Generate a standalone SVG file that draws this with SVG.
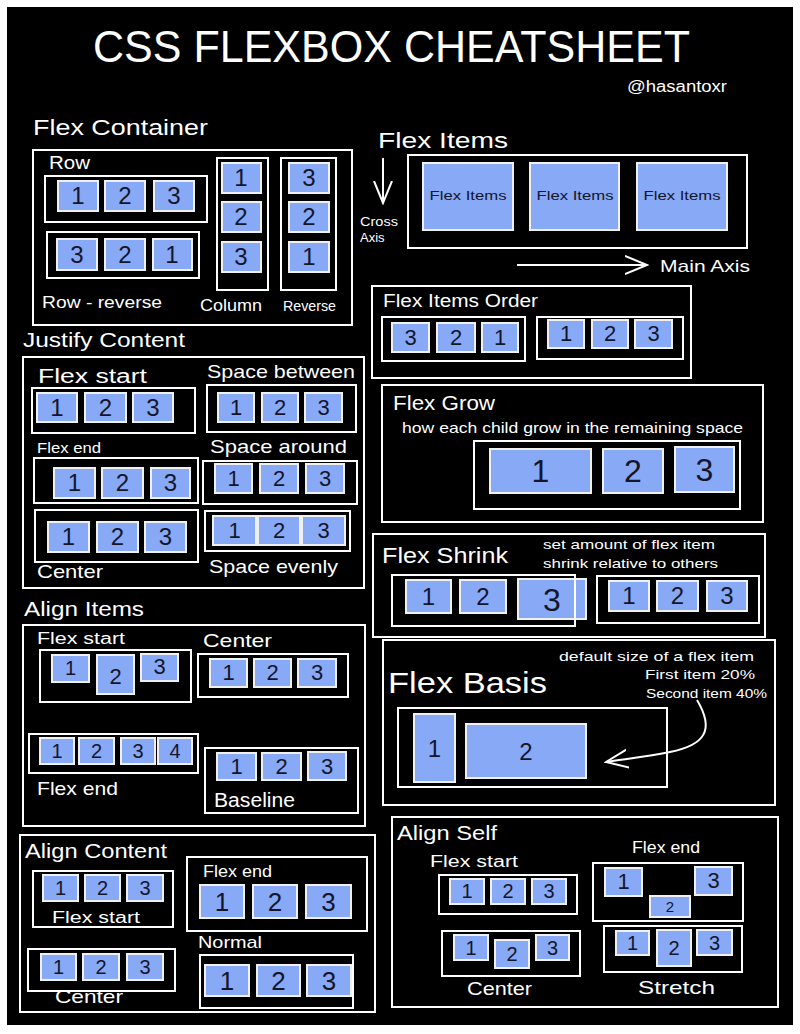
<svg xmlns="http://www.w3.org/2000/svg" width="800" height="1034" viewBox="0 0 800 1034">
<defs>
<style>
.box{fill:none;stroke:#fff;stroke-width:2}
.it{fill:#87a9f6;stroke:#f0f0f0;stroke-width:2}
.t{fill:#fff;font-family:"Liberation Sans",Arial,sans-serif}
.n{fill:#15152a;font-family:"Liberation Sans",Arial,sans-serif;text-anchor:middle}
.c{fill:none;stroke:#fff;stroke-width:2}
</style>
<marker id="ah" viewBox="0 0 24 24" refX="22" refY="12" markerWidth="24" markerHeight="24" markerUnits="userSpaceOnUse" orient="auto">
<path d="M0,3 L22,12 L0,21" fill="none" stroke="#fff" stroke-width="2"/>
</marker>
</defs>
<rect x="0" y="0" width="800" height="1034" fill="#fff"/>
<rect x="7" y="7" width="786" height="1018" fill="#000"/>

<g id="title">
<text class="t" x="93" y="62" font-size="44" textLength="597" lengthAdjust="spacingAndGlyphs">CSS FLEXBOX CHEATSHEET</text>
<text class="t" x="627" y="92" font-size="16" textLength="100" lengthAdjust="spacingAndGlyphs">@hasantoxr</text>
</g>

<g id="flex-container">
<text class="t" x="33" y="135" font-size="22" textLength="175" lengthAdjust="spacingAndGlyphs">Flex Container</text>
<rect class="box" x="33" y="150" width="319" height="175"/>
<text class="t" x="49" y="169" font-size="18" textLength="41" lengthAdjust="spacingAndGlyphs">Row</text>
<rect class="box" x="45" y="176" width="162" height="46"/>
<rect class="it" x="58" y="181" width="40" height="30"/><text class="n" x="78" y="204" font-size="24">1</text>
<rect class="it" x="105" y="181" width="40" height="30"/><text class="n" x="125" y="204" font-size="24">2</text>
<rect class="it" x="154" y="181" width="40" height="30"/><text class="n" x="174" y="204" font-size="24">3</text>
<rect class="box" x="47" y="232" width="152" height="46"/>
<rect class="it" x="57" y="239" width="40" height="31"/><text class="n" x="77" y="263" font-size="24">3</text>
<rect class="it" x="105" y="239" width="40" height="31"/><text class="n" x="125" y="263" font-size="24">2</text>
<rect class="it" x="153" y="239" width="39" height="31"/><text class="n" x="172" y="263" font-size="24">1</text>
<text class="t" x="42" y="308" font-size="17" textLength="120" lengthAdjust="spacingAndGlyphs">Row - reverse</text>
<rect class="box" x="217" y="158" width="51" height="132"/>
<rect class="it" x="222" y="163" width="39" height="30"/><text class="n" x="241" y="186" font-size="24">1</text>
<rect class="it" x="222" y="202" width="39" height="30"/><text class="n" x="241" y="225" font-size="24">2</text>
<rect class="it" x="222" y="242" width="39" height="30"/><text class="n" x="241" y="265" font-size="24">3</text>
<text class="t" x="200" y="311" font-size="17" textLength="62" lengthAdjust="spacingAndGlyphs">Column</text>
<rect class="box" x="281" y="158" width="55" height="132"/>
<rect class="it" x="289" y="163" width="40" height="30"/><text class="n" x="309" y="186" font-size="24">3</text>
<rect class="it" x="289" y="202" width="40" height="30"/><text class="n" x="309" y="225" font-size="24">2</text>
<rect class="it" x="289" y="242" width="40" height="30"/><text class="n" x="309" y="265" font-size="24">1</text>
<text class="t" x="283" y="311" font-size="14" textLength="53" lengthAdjust="spacingAndGlyphs">Reverse</text>
</g>

<g id="flex-items">
<text class="t" x="378" y="148" font-size="22" textLength="130" lengthAdjust="spacingAndGlyphs">Flex Items</text>
<rect class="box" x="408" y="155" width="339" height="93"/>
<rect class="it" x="423" y="163" width="90" height="67"/><text class="n" x="468" y="200" font-size="13" textLength="77" lengthAdjust="spacingAndGlyphs">Flex Items</text>
<rect class="it" x="530" y="163" width="89" height="67"/><text class="n" x="575" y="200" font-size="13" textLength="77" lengthAdjust="spacingAndGlyphs">Flex Items</text>
<rect class="it" x="637" y="163" width="90" height="67"/><text class="n" x="682" y="200" font-size="13" textLength="77" lengthAdjust="spacingAndGlyphs">Flex Items</text>
<text class="t" x="360" y="226" font-size="13" textLength="38" lengthAdjust="spacingAndGlyphs">Cross</text>
<text class="t" x="360" y="242" font-size="13">Axis</text>
<text class="t" x="660" y="272" font-size="17" textLength="90" lengthAdjust="spacingAndGlyphs">Main Axis</text>
</g>

<g id="flex-items-order">
<rect class="box" x="372" y="286" width="319" height="92"/>
<text class="t" x="383" y="307" font-size="18" textLength="155" lengthAdjust="spacingAndGlyphs">Flex Items Order</text>
<rect class="box" x="382" y="317" width="143" height="44"/>
<rect class="it" x="392" y="323" width="37" height="29"/><text class="n" x="410.5" y="345" font-size="22">3</text>
<rect class="it" x="437" y="323" width="38" height="29"/><text class="n" x="456" y="345" font-size="22">2</text>
<rect class="it" x="482" y="323" width="36" height="29"/><text class="n" x="500" y="345" font-size="22">1</text>
<rect class="box" x="537" y="317" width="146" height="42"/>
<rect class="it" x="548" y="320" width="36" height="28"/><text class="n" x="566" y="341" font-size="22">1</text>
<rect class="it" x="592" y="320" width="36" height="28"/><text class="n" x="610" y="341" font-size="22">2</text>
<rect class="it" x="635" y="320" width="37" height="28"/><text class="n" x="653.5" y="341" font-size="22">3</text>
</g>

<g id="flex-grow">
<rect class="box" x="382" y="385" width="381" height="137"/>
<text class="t" x="393" y="410" font-size="20" textLength="102" lengthAdjust="spacingAndGlyphs">Flex Grow</text>
<text class="t" x="402" y="433" font-size="15" textLength="341" lengthAdjust="spacingAndGlyphs">how each child grow in the remaining space</text>
<rect class="box" x="474" y="441" width="266" height="68"/>
<rect class="it" x="490" y="449" width="101" height="44"/><text class="n" x="540.5" y="482" font-size="32">1</text>
<rect class="it" x="603" y="449" width="60" height="44"/><text class="n" x="633" y="482" font-size="32">2</text>
<rect class="it" x="675" y="447" width="59" height="45"/><text class="n" x="704.5" y="481" font-size="32">3</text>
</g>

<g id="justify-content">
<text class="t" x="23" y="347" font-size="20" textLength="162" lengthAdjust="spacingAndGlyphs">Justify Content</text>
<rect class="box" x="23" y="357" width="341" height="231"/>
<text class="t" x="38" y="383" font-size="20" textLength="109" lengthAdjust="spacingAndGlyphs">Flex start</text>
<rect class="box" x="32" y="388" width="163" height="45"/>
<rect class="it" x="37" y="393" width="40" height="29"/><text class="n" x="57" y="416" font-size="24">1</text>
<rect class="it" x="85" y="393" width="41" height="29"/><text class="n" x="105.5" y="416" font-size="24">2</text>
<rect class="it" x="133" y="393" width="40" height="29"/><text class="n" x="153" y="416" font-size="24">3</text>
<text class="t" x="207" y="378" font-size="19" textLength="148" lengthAdjust="spacingAndGlyphs">Space between</text>
<rect class="box" x="207" y="385" width="149" height="47"/>
<rect class="it" x="218" y="393" width="36" height="29"/><text class="n" x="236" y="415" font-size="22">1</text>
<rect class="it" x="262" y="393" width="36" height="29"/><text class="n" x="280" y="415" font-size="22">2</text>
<rect class="it" x="305" y="393" width="37" height="29"/><text class="n" x="323.5" y="415" font-size="22">3</text>
<text class="t" x="37" y="453" font-size="15" textLength="64" lengthAdjust="spacingAndGlyphs">Flex end</text>
<rect class="box" x="34" y="458" width="164" height="45"/>
<rect class="it" x="54" y="468" width="41" height="30"/><text class="n" x="74.5" y="491" font-size="24">1</text>
<rect class="it" x="102" y="468" width="41" height="30"/><text class="n" x="122.5" y="491" font-size="24">2</text>
<rect class="it" x="151" y="468" width="39" height="30"/><text class="n" x="170.5" y="491" font-size="24">3</text>
<text class="t" x="210" y="453" font-size="19" textLength="137" lengthAdjust="spacingAndGlyphs">Space around</text>
<rect class="box" x="203" y="461" width="154" height="43"/>
<rect class="it" x="215" y="464" width="37" height="29"/><text class="n" x="233.5" y="486" font-size="22">1</text>
<rect class="it" x="260" y="464" width="38" height="29"/><text class="n" x="279" y="486" font-size="22">2</text>
<rect class="it" x="306" y="464" width="38" height="29"/><text class="n" x="325" y="486" font-size="22">3</text>
<rect class="box" x="35" y="510" width="163" height="52"/>
<rect class="it" x="48" y="522" width="41" height="30"/><text class="n" x="68.5" y="545" font-size="24">1</text>
<rect class="it" x="97" y="522" width="41" height="30"/><text class="n" x="117.5" y="545" font-size="24">2</text>
<rect class="it" x="145" y="522" width="41" height="30"/><text class="n" x="165.5" y="545" font-size="24">3</text>
<text class="t" x="37" y="578" font-size="19" textLength="66" lengthAdjust="spacingAndGlyphs">Center</text>
<rect class="box" x="205" y="511" width="145" height="40"/>
<rect class="it" x="213" y="516" width="43" height="29"/><text class="n" x="234.5" y="538" font-size="22">1</text>
<rect class="it" x="258" y="516" width="42" height="29"/><text class="n" x="279" y="538" font-size="22">2</text>
<rect class="it" x="302" y="516" width="43" height="29"/><text class="n" x="323.5" y="538" font-size="22">3</text>
<text class="t" x="209" y="573" font-size="19" textLength="129" lengthAdjust="spacingAndGlyphs">Space evenly</text>
</g>

<g id="align-items">
<text class="t" x="24" y="616" font-size="20" textLength="120" lengthAdjust="spacingAndGlyphs">Align Items</text>
<rect class="box" x="23" y="625" width="342" height="201"/>
<text class="t" x="37" y="644" font-size="16" textLength="88" lengthAdjust="spacingAndGlyphs">Flex start</text>
<rect class="box" x="40" y="650" width="151" height="52"/>
<rect class="it" x="52" y="655" width="37" height="27"/><text class="n" x="70.5" y="675" font-size="20">1</text>
<rect class="it" x="97" y="655" width="37" height="39"/><text class="n" x="115.5" y="684" font-size="22">2</text>
<rect class="it" x="141" y="654" width="37" height="27"/><text class="n" x="159.5" y="674" font-size="22">3</text>
<text class="t" x="203" y="647" font-size="19" textLength="69" lengthAdjust="spacingAndGlyphs">Center</text>
<rect class="box" x="198" y="654" width="150" height="43"/>
<rect class="it" x="210" y="659" width="37" height="28"/><text class="n" x="228.5" y="680" font-size="22">1</text>
<rect class="it" x="254" y="659" width="37" height="28"/><text class="n" x="272.5" y="680" font-size="22">2</text>
<rect class="it" x="298" y="659" width="38" height="28"/><text class="n" x="317" y="680" font-size="22">3</text>
<rect class="box" x="29" y="734" width="169" height="39"/>
<rect class="it" x="40" y="738" width="34" height="26"/><text class="n" x="57" y="758" font-size="20">1</text>
<rect class="it" x="79" y="738" width="35" height="26"/><text class="n" x="96.5" y="758" font-size="20">2</text>
<rect class="it" x="121" y="738" width="34" height="26"/><text class="n" x="138" y="758" font-size="20">3</text>
<rect class="it" x="158" y="738" width="34" height="26"/><text class="n" x="175" y="758" font-size="20">4</text>
<text class="t" x="37" y="795" font-size="19" textLength="81" lengthAdjust="spacingAndGlyphs">Flex end</text>
<rect class="box" x="205" y="748" width="153" height="65"/>
<rect class="it" x="217" y="753" width="39" height="27"/><text class="n" x="236.5" y="774" font-size="22">1</text>
<rect class="it" x="262" y="753" width="39" height="27"/><text class="n" x="281.5" y="774" font-size="22">2</text>
<rect class="it" x="308" y="752" width="38" height="28"/><text class="n" x="327" y="774" font-size="22">3</text>
<text class="t" x="214" y="807" font-size="20" textLength="81" lengthAdjust="spacingAndGlyphs">Baseline</text>
</g>

<g id="align-content">
<rect class="box" x="20" y="835" width="355" height="177"/>
<text class="t" x="25" y="858" font-size="20" textLength="142" lengthAdjust="spacingAndGlyphs">Align Content</text>
<rect class="box" x="33" y="871" width="140" height="56"/>
<rect class="it" x="43" y="875" width="35" height="26"/><text class="n" x="60.5" y="895" font-size="20">1</text>
<rect class="it" x="85" y="875" width="35" height="26"/><text class="n" x="102.5" y="895" font-size="20">2</text>
<rect class="it" x="127" y="875" width="36" height="26"/><text class="n" x="145" y="895" font-size="20">3</text>
<text class="t" x="52" y="923" font-size="16" textLength="88" lengthAdjust="spacingAndGlyphs">Flex start</text>
<rect class="box" x="187" y="857" width="180" height="74"/>
<text class="t" x="203" y="877" font-size="16" textLength="69" lengthAdjust="spacingAndGlyphs">Flex end</text>
<rect class="it" x="200" y="885" width="44" height="33"/><text class="n" x="222" y="911" font-size="26">1</text>
<rect class="it" x="253" y="885" width="44" height="33"/><text class="n" x="275" y="911" font-size="26">2</text>
<rect class="it" x="306" y="885" width="45" height="33"/><text class="n" x="328.5" y="911" font-size="26">3</text>
<text class="t" x="198" y="948" font-size="17" textLength="64" lengthAdjust="spacingAndGlyphs">Normal</text>
<rect class="box" x="28" y="949" width="147" height="42"/>
<rect class="it" x="41" y="954" width="35" height="26"/><text class="n" x="58.5" y="974" font-size="20">1</text>
<rect class="it" x="83" y="954" width="36" height="26"/><text class="n" x="101" y="974" font-size="20">2</text>
<rect class="it" x="127" y="954" width="36" height="26"/><text class="n" x="145" y="974" font-size="20">3</text>
<text class="t" x="55" y="1003" font-size="19" textLength="68" lengthAdjust="spacingAndGlyphs">Center</text>
<rect class="box" x="200" y="955" width="153" height="53"/>
<rect class="it" x="205" y="965" width="44" height="31"/><text class="n" x="227" y="990" font-size="26">1</text>
<rect class="it" x="257" y="965" width="43" height="31"/><text class="n" x="278.5" y="990" font-size="26">2</text>
<rect class="it" x="307" y="965" width="44" height="31"/><text class="n" x="329" y="990" font-size="26">3</text>
</g>

<g id="flex-shrink">
<rect class="box" x="373" y="534" width="392" height="103"/>
<text class="t" x="382" y="563" font-size="22" textLength="126" lengthAdjust="spacingAndGlyphs">Flex Shrink</text>
<text class="t" x="543" y="549" font-size="13" textLength="172" lengthAdjust="spacingAndGlyphs">set amount of flex item</text>
<text class="t" x="543" y="568" font-size="13" textLength="175" lengthAdjust="spacingAndGlyphs">shrink relative to others</text>
<rect class="it" x="406" y="580" width="45" height="33"/><text class="n" x="428.5" y="605" font-size="24">1</text>
<rect class="it" x="460" y="580" width="46" height="33"/><text class="n" x="483" y="605" font-size="24">2</text>
<rect class="it" x="518" y="579" width="68" height="40"/><text class="n" x="552" y="611" font-size="32">3</text>
<rect class="box" x="392" y="575" width="183" height="51"/>
<rect class="box" x="597" y="576" width="162" height="47"/>
<rect class="it" x="609" y="581" width="40" height="30"/><text class="n" x="629" y="604" font-size="24">1</text>
<rect class="it" x="657" y="581" width="41" height="30"/><text class="n" x="677.5" y="604" font-size="24">2</text>
<rect class="it" x="707" y="581" width="40" height="30"/><text class="n" x="727" y="604" font-size="24">3</text>
</g>

<g id="flex-basis">
<rect class="box" x="383" y="640" width="392" height="165"/>
<text class="t" x="388" y="693" font-size="30" textLength="159" lengthAdjust="spacingAndGlyphs">Flex Basis</text>
<text class="t" x="754" y="661" font-size="13" text-anchor="end" textLength="195" lengthAdjust="spacingAndGlyphs">default size of a flex item</text>
<text class="t" x="755" y="679" font-size="13" text-anchor="end" textLength="110" lengthAdjust="spacingAndGlyphs">First item 20%</text>
<text class="t" x="767" y="698" font-size="13" text-anchor="end" textLength="121" lengthAdjust="spacingAndGlyphs">Second item 40%</text>
<rect class="box" x="398" y="708" width="269" height="79"/>
<rect class="it" x="414" y="714" width="41" height="68"/><text class="n" x="434.5" y="757" font-size="24">1</text>
<rect class="it" x="466" y="724" width="120" height="54"/><text class="n" x="526" y="760" font-size="24">2</text>
</g>

<g id="align-self">
<rect class="box" x="392" y="817" width="386" height="190"/>
<text class="t" x="397" y="840" font-size="20" textLength="100" lengthAdjust="spacingAndGlyphs">Align Self</text>
<text class="t" x="430" y="867" font-size="16" textLength="88" lengthAdjust="spacingAndGlyphs">Flex start</text>
<rect class="box" x="439" y="875" width="138" height="39"/>
<rect class="it" x="450" y="879" width="34" height="25"/><text class="n" x="467" y="898" font-size="20">1</text>
<rect class="it" x="491" y="879" width="34" height="25"/><text class="n" x="508" y="898" font-size="20">2</text>
<rect class="it" x="532" y="879" width="34" height="25"/><text class="n" x="549" y="898" font-size="20">3</text>
<text class="t" x="632" y="853" font-size="16" textLength="68" lengthAdjust="spacingAndGlyphs">Flex end</text>
<rect class="box" x="593" y="863" width="150" height="58"/>
<rect class="it" x="605" y="868" width="37" height="28"/><text class="n" x="623.5" y="889" font-size="22">1</text>
<rect class="it" x="695" y="867" width="37" height="28"/><text class="n" x="713.5" y="888" font-size="22">3</text>
<rect class="it" x="650" y="896" width="40" height="21"/><text class="n" x="670" y="912" font-size="15">2</text>
<rect class="box" x="442" y="931" width="138" height="45"/>
<rect class="it" x="454" y="935" width="34" height="25"/><text class="n" x="471" y="955" font-size="20">1</text>
<rect class="it" x="495" y="940" width="34" height="28"/><text class="n" x="512" y="961" font-size="20">2</text>
<rect class="it" x="536" y="935" width="33" height="25"/><text class="n" x="552.5" y="955" font-size="20">3</text>
<text class="t" x="467" y="995" font-size="19" textLength="65" lengthAdjust="spacingAndGlyphs">Center</text>
<rect class="box" x="604" y="926" width="138" height="46"/>
<rect class="it" x="616" y="931" width="33" height="24"/><text class="n" x="632.5" y="950" font-size="20">1</text>
<rect class="it" x="657" y="930" width="34" height="36"/><text class="n" x="674" y="955" font-size="20">2</text>
<rect class="it" x="697" y="930" width="35" height="25"/><text class="n" x="714.5" y="950" font-size="20">3</text>
<text class="t" x="638" y="994" font-size="19" textLength="77" lengthAdjust="spacingAndGlyphs">Stretch</text>
</g>

<g id="connectors">
<path class="c" d="M383,158 L383,203" marker-end="url(#ah)"/>
<path class="c" d="M517,265 L647,265" marker-end="url(#ah)"/>
<path class="c" d="M697,700 C715,730 705,745 670,752 C645,757 625,759 606,762" marker-end="url(#ah)"/>
</g>
</svg>
